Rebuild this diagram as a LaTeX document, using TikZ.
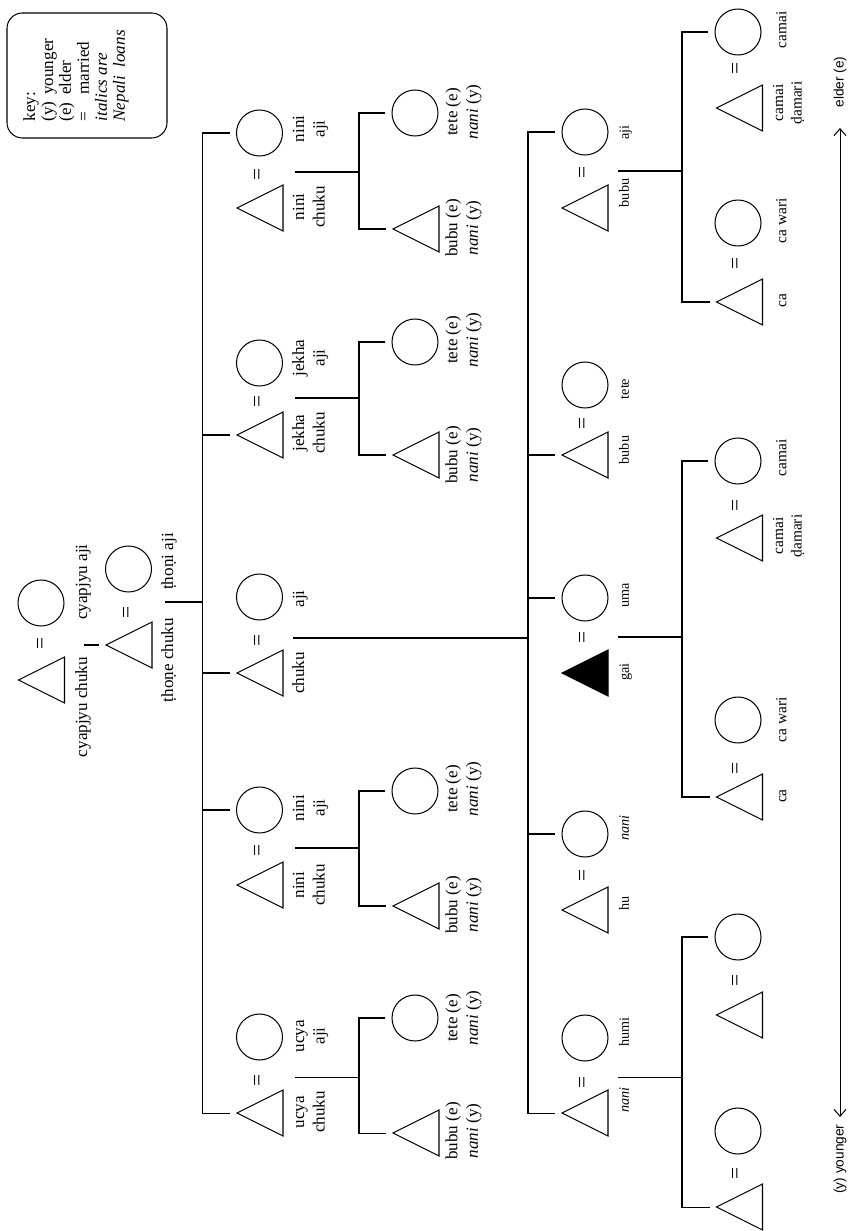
\documentclass[tikz,border=0pt]{standalone}
\usepackage{fontspec}
\setmainfont{Liberation Serif}
\newfontfamily\arialf{Liberation Sans}
\usetikzlibrary{calc,arrows.meta}
\def\pxu{0.585pt}
\begin{document}
\begin{tikzpicture}[x=0.585pt, y=-0.585pt, line width=0.6pt,
  tri/.style={minimum width=46*\pxu, minimum height=46*\pxu, inner sep=0, outer sep=0},
  circ/.style={draw, circle, minimum size=46*\pxu, inner sep=0, outer sep=0},
  eqs/.style={rotate=90, inner sep=0, font=\fontsize{12.5}{14}\selectfont},
  labA/.style={rotate=90, anchor=north, inner sep=0, align=center, font=\fontsize{10}{12}\selectfont},
  labS/.style={rotate=90, anchor=north, inner sep=0, align=center, font=\fontsize{8.3}{10}\selectfont},
  labG/.style={rotate=90, anchor=north, inner sep=0, align=center, font=\fontsize{9}{10.8}\selectfont},
  sanslab/.style={rotate=90, inner sep=0, font=\arialf\fontsize{8}{9.6}\selectfont},
  barb/.tip={Straight Barb[length=4pt,width=7pt]}
]
\useasboundingbox (0,0) rectangle (853,1231);

% ---------- key ----------
\node[draw, rounded corners=9pt, minimum width=160*\pxu, minimum height=125*\pxu, inner sep=0] (keybox) at (87,75.5) {};
\node[rotate=90, anchor=north west, inner sep=0, font=\fontsize{10}{10.5}\selectfont] (keytxt) at (22,122)
  {\begin{tabular}{@{}l@{\hspace{4pt}}l@{}}
   \multicolumn{2}{@{}l@{}}{key:}\\
   (y)&younger\\
   (e)&elder\\
   =&married\\
   \multicolumn{2}{@{}l@{}}{\textit{italics are}}\\
   \multicolumn{2}{@{}l@{}}{\textit{Nepali\ \ loans}}
   \end{tabular}};

% ---------- generation 0 and 1 ----------
\node[tri]  (T0) at (41.5,680) {};
\node[circ] (C0) at (41,603) {};
\node[eqs]  (E0) at (42,643) {=};
\node[labA] (L0a) at (72.2,707) {\strut cyapjyu chuku};
\node[labA] (L0b) at (72.2,582) {\strut cyapjyu aji};

\node[tri]  (T1) at (129,645) {};
\node[circ] (C1) at (128.5,569) {};
\node[eqs]  (E1) at (128,612) {=};
\node[labA] (L1a) at (158.2,660) {\strut ṭhoṇe chuku};
\node[labA] (L1b) at (158.2,561.5) {\strut ṭhoṇi aji};

% ---------- generation 2 ----------
\node[tri]  (T2a) at (260,208) {};
\node[circ] (C2a) at (259.5,133) {};
\node[eqs]  (E2a) at (259,174) {=};
\node[tri]  (T2b) at (260,435) {};
\node[circ] (C2b) at (259.5,363) {};
\node[eqs]  (E2b) at (259,401) {=};
\node[tri]  (T2c) at (260,673) {};
\node[circ] (C2c) at (259.5,597) {};
\node[eqs]  (E2c) at (259,640) {=};
\node[tri]  (T2d) at (260,885) {};
\node[circ] (C2d) at (259.5,810) {};
\node[eqs]  (E2d) at (259,850) {=};
\node[tri]  (T2e) at (260,1113) {};
\node[circ] (C2e) at (259.5,1037) {};
\node[eqs]  (E2e) at (259,1080) {=};

\node[labA] at (289.2,207)  {\strut nini\\chuku};
\node[labA] at (289.2,129)  {\strut nini\\aji};
\node[labA] at (289.2,433)  {\strut jekha\\chuku};
\node[labA] at (289.2,358)  {\strut jekha\\aji};
\node[labA] at (289.2,673)  {\strut chuku};
\node[labA] at (289.2,599)  {\strut aji};
\node[labA] at (289.2,885)  {\strut nini\\chuku};
\node[labA] at (289.2,808)  {\strut nini\\aji};
\node[labA] at (289.2,1112) {\strut ucya\\chuku};
\node[labA] at (289.2,1036) {\strut ucya\\aji};

% ---------- cousins ----------
\node[circ] (K1c) at (415,113) {};
\node[tri]  (K1t) at (416,229) {};
\node[circ] (K2c) at (415,342) {};
\node[tri]  (K2t) at (416,455) {};
\node[circ] (K3c) at (415,791) {};
\node[tri]  (K3t) at (416,906) {};
\node[circ] (K4c) at (415,1018) {};
\node[tri]  (K4t) at (416,1133) {};
\foreach \yy in {112,340,789,1018}
  \node[labA] at (442.4,\yy) {\strut tete (e)\\\textit{nani} (y)};
\foreach \yy in {228,455,905,1131}
  \node[labA] at (442.4,\yy) {\strut bubu (e)\\\textit{nani} (y)};

% ---------- ego's generation ----------
\node[circ] (S1c) at (585,132) {};
\node[tri]  (S1t) at (585,208) {};
\node[eqs]  (S1e) at (584,172) {=};
\node[circ] (S2c) at (585,385) {};
\node[tri]  (S2t) at (585,455) {};
\node[eqs]  (S2e) at (584,423) {=};
\node[circ] (S3c) at (585,598) {};
\node[tri]  (S3t) at (585,673) {};
\node[eqs]  (S3e) at (584,637) {=};
\node[circ] (S4c) at (585,834) {};
\node[tri]  (S4t) at (585,910) {};
\node[eqs]  (S4e) at (584,875) {=};
\node[circ] (S5c) at (585,1038) {};
\node[tri]  (S5t) at (585,1113) {};
\node[eqs]  (S5e) at (584,1082) {=};

\node[labS] at (616.5,132.5) {\strut aji};
\node[labS] at (616.5,193)   {\strut bubu};
\node[labS] at (616.5,389)   {\strut tete};
\node[labS] at (616.5,450)   {\strut bubu};
\node[labS] at (616.5,595)   {\strut uma};
\node[labS] at (616.5,672)   {\strut gai};
\node[labS] at (616.5,828)   {\strut\textit{nani}};
\node[labS] at (616.5,903)   {\strut hu};
\node[labS] at (616.5,1032)  {\strut humi};
\node[labS] at (616.5,1100)  {\strut\textit{nani}};

% ---------- generation 4 ----------
\node[circ] (G1c) at (738,32) {};
\node[eqs]  (G1e) at (737,68) {=};
\node[tri]  (G1t) at (739.5,108) {};
\node[circ] (G2c) at (738,223) {};
\node[eqs]  (G2e) at (737,263) {=};
\node[tri]  (G2t) at (739.5,302) {};
\node[circ] (G3c) at (738,461) {};
\node[eqs]  (G3e) at (737,505) {=};
\node[tri]  (G3t) at (739.5,538) {};
\node[circ] (G4c) at (738,720) {};
\node[eqs]  (G4e) at (737,768) {=};
\node[tri]  (G4t) at (739.5,797) {};
\node[circ] (G5c) at (738,937) {};
\node[eqs]  (G5e) at (737,980) {=};
\node[tri]  (G5t) at (739.5,1015) {};
\node[circ] (G6c) at (738,1131) {};
\node[eqs]  (G6e) at (737,1173) {=};
\node[tri]  (G6t) at (739.5,1207) {};

\node[labG] at (773,30)    {\strut camai};
\node[labG] at (769.6,103) {\strut camai\\ḍamari};
\node[labG] at (773,221)   {\strut ca wari};
\node[labG] at (773,301)   {\strut ca};
\node[labG] at (773,458)   {\strut camai};
\node[labG] at (769.6,536) {\strut camai\\ḍamari};
\node[labG] at (773,720)   {\strut ca wari};
\node[labG] at (773,796)   {\strut ca};

% ---------- triangles ----------
\foreach \n in {T0,T1,T2a,T2b,T2c,T2d,T2e,K1t,K2t,K3t,K4t,S1t,S2t,S4t,S5t,G1t,G2t,G3t,G4t,G5t,G6t}
  \draw (\n.west) -- (\n.north east) -- (\n.south east) -- cycle;
\draw[fill=black] (S3t.west) -- (S3t.north east) -- (S3t.south east) -- cycle;

% ---------- descent lines ----------
\coordinate (d0) at (84,645);
\draw (d0) -- ($(T1.west)+(-7,0)$);
\coordinate (d1) at (165,602);
\coordinate (d1e) at (203,602);
\draw (d1) -- (d1e);

\draw ($(C2a.west)+(-7,0)$) -- ++(-27,0) |- ($(T2e.west)+(-7,0)$);
\foreach \n in {T2b,T2c,C2d} \draw ($(\n.west)+(-7,0)$) -- ++(-27,0);

\coordinate (dA) at (295,172);  \draw (dA) -- ++(64,0);
\coordinate (dB) at (295,398);  \draw (dB) -- ++(64,0);
\coordinate (dD) at (295,848);  \draw (dD) -- ++(64,0);
\coordinate (dE) at (295,1077); \draw (dE) -- ++(64,0);
\coordinate (dC) at (293,638);  \draw (dC) -- ++(235,0);

\foreach \a/\b in {K1c/K1t,K2c/K2t,K3c/K3t,K4c/K4t}
  \draw ($(\a.west)+(-7,0)$) -- ++(-26,0) |- ($(\b.west)+(-7,0)$);

\draw ($(S1c.west)+(-7,0)$) -- ++(-27,0) |- ($(S5t.west)+(-7,0)$);
\foreach \n in {S2t,S3c,S4c} \draw ($(\n.west)+(-7,0)$) -- ++(-27,0);

\coordinate (dS1) at (618,171);  \draw (dS1) -- ++(64,0);
\coordinate (dS3) at (618,637);  \draw (dS3) -- ++(64,0);
\coordinate (dS5) at (618,1077); \draw (dS5) -- ++(64,0);

\foreach \a/\b in {G1c/G2t,G3c/G4t,G5c/G6t}
  \draw ($(\a.west)+(-7,0)$) -- ++(-26,0) |- ($(\b.west)+(-7,0)$);

% ---------- age arrow ----------
\coordinate (ar1) at (840,128);
\coordinate (ar2) at (840,1117);
\draw[barb-barb] (ar1) -- (ar2);
\node[sanslab] (eld) at (840,82) {elder (e)};
\node[sanslab] (yng) at (840,1159) {(y) younger};
\end{tikzpicture}
\end{document}
